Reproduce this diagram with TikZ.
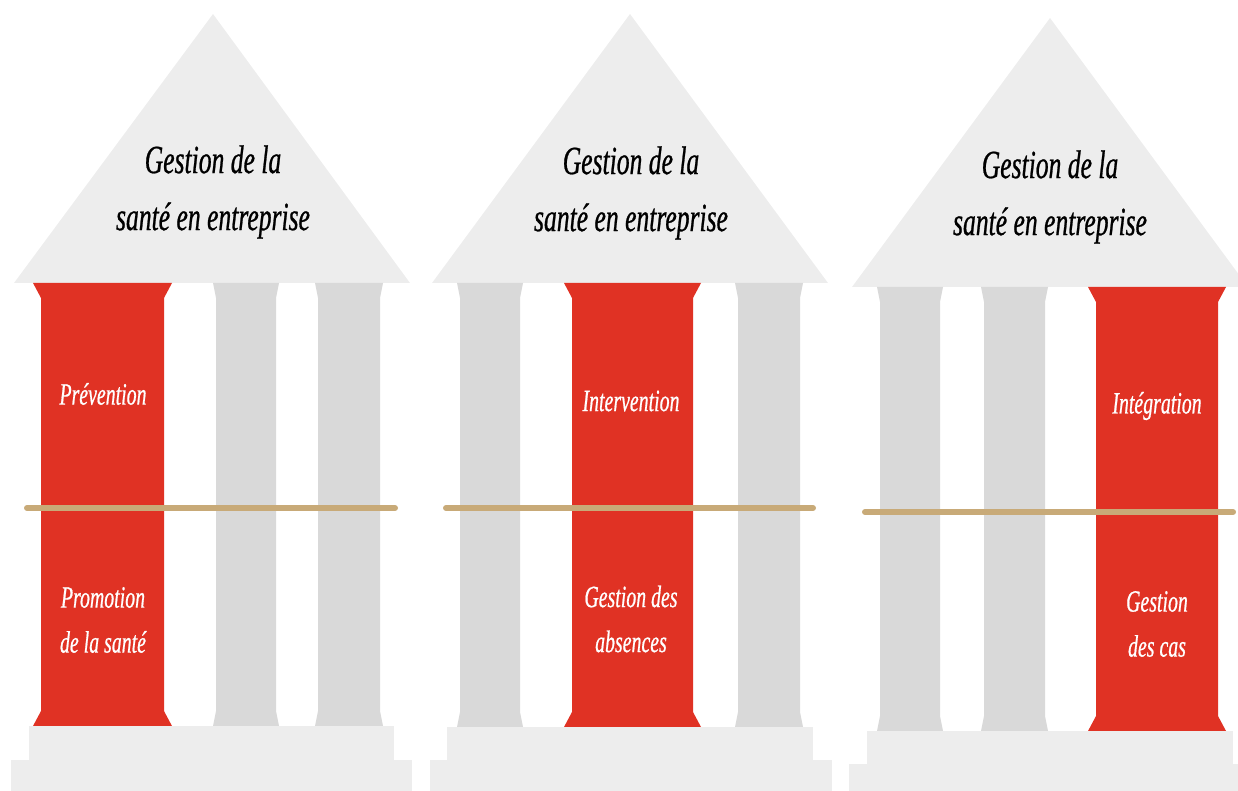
\documentclass[tikz,border=0pt]{standalone}
\usepackage{fontspec}
\newfontfamily\condit[FakeStretch=0.64,FakeBold=0.6]{Liberation Serif}
\definecolor{pillarred}{HTML}{E03224}
\definecolor{pillargray}{HTML}{D9D9D9}
\definecolor{roofgray}{HTML}{EDEDED}
\definecolor{belttan}{HTML}{C8AA78}
\tikzset{
  roof/.style={fill=roofgray, draw=none},
  basestep/.style={fill=roofgray, draw=none},
  belt/.style={draw=belttan, line width=6pt, line cap=round},
  titletext/.style={font=\condit\itshape\fontsize{40}{57}\selectfont, text=black, align=center, inner sep=0pt},
  pillartext/.style={font=\condit\itshape\fontsize{31}{45}\selectfont, text=white, align=center, inner sep=0pt}
}
% shaft left, shaft right, top y, bottom y, flare, colour
\newcommand{\pillarshape}[6]{%
  \fill[#6] (#1-#5,#3) -- (#2+#5,#3) -- (#2,#3+15) -- (#2,#4-15) -- (#2+#5,#4)
    -- (#1-#5,#4) -- (#1,#4-15) -- (#1,#3+15) -- cycle;}
\begin{document}
\begin{tikzpicture}[x=1pt,y=-1pt]
\useasboundingbox (0,0) rectangle (1238,791);
\begin{scope}
\clip (0,0) rectangle (1238,791);
% ---------- temple 1 ----------
\fill[roof] (14,283) -- (213,14) -- (410,283) -- cycle;
\pillarshape{41}{164}{283}{726}{8}{pillarred}
\pillarshape{216}{276}{283}{726}{3}{pillargray}
\pillarshape{318}{380}{283}{726}{3}{pillargray}
\fill[basestep] (29,726) rectangle (394,760);
\fill[basestep] (11,760) rectangle (412,791);
\coordinate (b1l) at (27,508); \coordinate (b1r) at (395,508);
\draw[belt] (b1l) -- (b1r);
\node[titletext] (t1) at (213,192) {Gestion de la\\santé en entreprise};
\node[pillartext] (p1a) at (103,394) {Prévention};
\node[pillartext] (p1b) at (103,620) {Promotion\\de la santé};
% ---------- temple 2 ----------
\fill[roof] (432,283) -- (630,14) -- (828,283) -- cycle;
\pillarshape{460}{520}{283}{727}{3}{pillargray}
\pillarshape{572}{693}{283}{727}{8}{pillarred}
\pillarshape{738}{800}{283}{727}{3}{pillargray}
\fill[basestep] (447,727) rectangle (813,760);
\fill[basestep] (430,760) rectangle (832,791);
\coordinate (b2l) at (446,508); \coordinate (b2r) at (813,508);
\draw[belt] (b2l) -- (b2r);
\node[titletext] (t2) at (631,193) {Gestion de la\\santé en entreprise};
\node[pillartext] (p2a) at (631,401) {Intervention};
\node[pillartext] (p2b) at (631,619) {Gestion des\\absences};
% ---------- temple 3 ----------
\fill[roof] (852,287) -- (1050,18) -- (1248,287) -- cycle;
\pillarshape{880}{940}{287}{731}{3}{pillargray}
\pillarshape{984}{1045}{287}{731}{3}{pillargray}
\pillarshape{1096}{1218}{287}{731}{8}{pillarred}
\fill[basestep] (867,731) rectangle (1233,764);
\fill[basestep] (849,764) rectangle (1240,791);
\coordinate (b3l) at (865,512); \coordinate (b3r) at (1233,512);
\draw[belt] (b3l) -- (b3r);
\node[titletext] (t3) at (1050,197) {Gestion de la\\santé en entreprise};
\node[pillartext] (p3a) at (1157,406) {Intégration};
\node[pillartext] (p3b) at (1157,624) {Gestion\\des cas};
\end{scope}
\end{tikzpicture}
\end{document}
